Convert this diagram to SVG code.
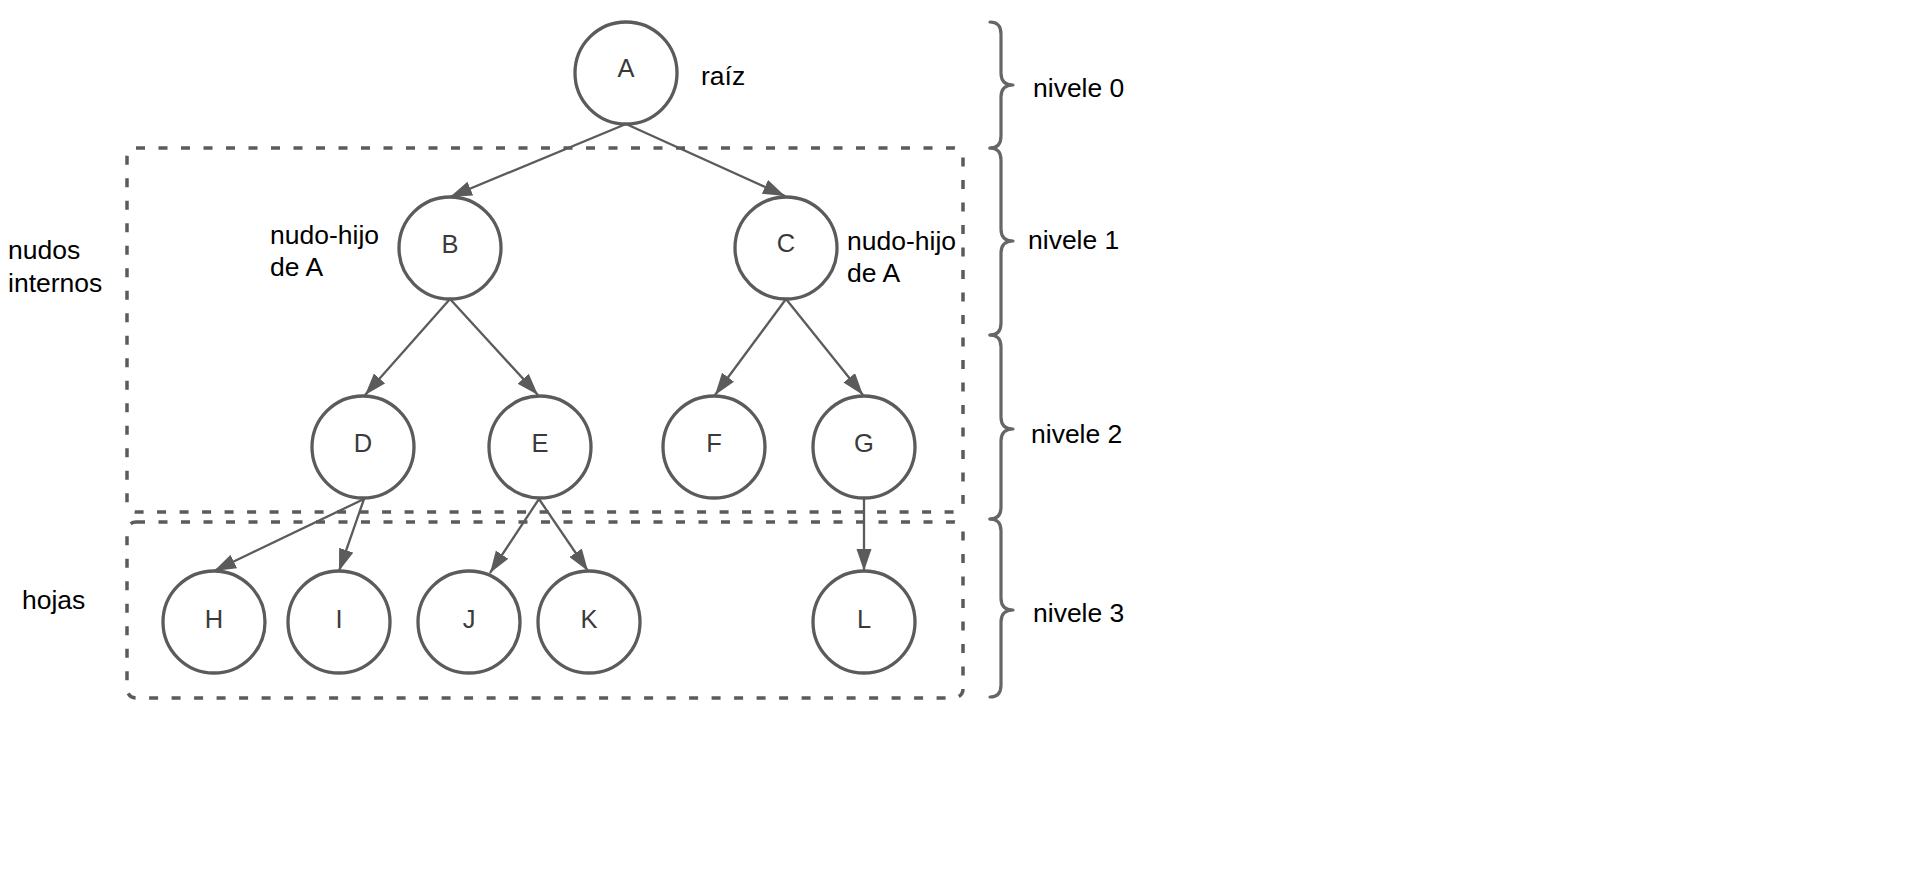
<svg xmlns="http://www.w3.org/2000/svg" width="1914" height="884" viewBox="0 0 1914 884">
<style>
.node circle{fill:#fff;stroke:#5b5b5b;stroke-width:3.3}
.node text{font-family:"Liberation Sans",Arial,sans-serif;font-size:25.5px;fill:#3a3a3a;text-anchor:middle}
.lbl{font-family:"Liberation Sans",Arial,sans-serif;font-size:26.5px;fill:#000}
.edge{stroke:#5b5b5b;stroke-width:2.3;fill:none;marker-end:url(#arr)}
.box{fill:none;stroke:#5b5b5b;stroke-width:3.5;stroke-dasharray:9 13.5}
.brace{fill:none;stroke:#666;stroke-width:3.2;stroke-linecap:round;stroke-linejoin:round}
</style>
<defs>
<marker id="arr" markerUnits="userSpaceOnUse" markerWidth="24" markerHeight="16" refX="22" refY="7.5" orient="auto">
<path d="M0,0 L22,7.5 L0,15 z" fill="#5b5b5b"/>
</marker>
</defs>
<rect width="1914" height="884" fill="#fff"/>
<g id="boxes">
<rect class="box" x="127" y="148" width="836" height="364" rx="9"/>
<rect class="box" x="127" y="522" width="836" height="176" rx="9"/>
</g>
<g id="braces">
<path class="brace" d="M990,22 Q1001,22 1001,34 L1001,73 Q1001,85 1013,85 Q1001,85 1001,97 L1001,136 Q1001,148 990,148"/>
<path class="brace" d="M990,148 Q1001,148 1001,160 L1001,229 Q1001,241 1013,241 Q1001,241 1001,253 L1001,323 Q1001,335 990,335"/>
<path class="brace" d="M990,335 Q1001,335 1001,347 L1001,417 Q1001,429 1013,429 Q1001,429 1001,441 L1001,507 Q1001,519 990,519"/>
<path class="brace" d="M990,519 Q1001,519 1001,531 L1001,598 Q1001,610 1013,610 Q1001,610 1001,622 L1001,685 Q1001,697 990,697"/>
</g>
<g id="connectors">
<line class="edge" x1="626" y1="124" x2="450" y2="197"/>
<line class="edge" x1="626" y1="124" x2="785" y2="196"/>
<line class="edge" x1="450" y1="299" x2="365" y2="395"/>
<line class="edge" x1="450" y1="299" x2="538" y2="395"/>
<line class="edge" x1="786" y1="299" x2="715" y2="395"/>
<line class="edge" x1="786" y1="299" x2="863" y2="395"/>
<line class="edge" x1="364" y1="499" x2="214" y2="571"/>
<line class="edge" x1="364" y1="499" x2="339" y2="571"/>
<line class="edge" x1="539" y1="499" x2="490" y2="573"/>
<line class="edge" x1="539" y1="499" x2="588" y2="571"/>
<line class="edge" x1="864" y1="498" x2="864" y2="571"/>
</g>
<g id="node-A" class="node"><circle cx="626" cy="73" r="51"/><text x="626" y="77">A</text></g>
<g id="node-B" class="node"><circle cx="450" cy="248" r="51"/><text x="450" y="253">B</text></g>
<g id="node-C" class="node"><circle cx="786" cy="248" r="51"/><text x="786" y="252">C</text></g>
<g id="node-D" class="node"><circle cx="363" cy="447" r="51"/><text x="363" y="452">D</text></g>
<g id="node-E" class="node"><circle cx="540" cy="447" r="51"/><text x="540" y="452">E</text></g>
<g id="node-F" class="node"><circle cx="714" cy="447" r="51"/><text x="714" y="452">F</text></g>
<g id="node-G" class="node"><circle cx="864" cy="447" r="51"/><text x="864" y="452">G</text></g>
<g id="node-H" class="node"><circle cx="214" cy="622" r="51"/><text x="214" y="628">H</text></g>
<g id="node-I" class="node"><circle cx="339" cy="622" r="51"/><text x="339" y="628">I</text></g>
<g id="node-J" class="node"><circle cx="469" cy="622" r="51"/><text x="469" y="628">J</text></g>
<g id="node-K" class="node"><circle cx="589" cy="622" r="51"/><text x="589" y="628">K</text></g>
<g id="node-L" class="node"><circle cx="864" cy="622" r="51"/><text x="864" y="628">L</text></g>
<g id="labels">
<text class="lbl" x="701" y="85">raíz</text>
<text class="lbl" x="270" y="244">nudo-hijo</text>
<text class="lbl" x="270" y="276">de A</text>
<text class="lbl" x="847" y="250">nudo-hijo</text>
<text class="lbl" x="847" y="282">de A</text>
<text class="lbl" x="8" y="259">nudos</text>
<text class="lbl" x="8" y="292">internos</text>
<text class="lbl" x="22" y="609">hojas</text>
<text class="lbl" x="1033" y="97">nivele 0</text>
<text class="lbl" x="1028" y="249">nivele 1</text>
<text class="lbl" x="1031" y="443">nivele 2</text>
<text class="lbl" x="1033" y="622">nivele 3</text>
</g>
</svg>
